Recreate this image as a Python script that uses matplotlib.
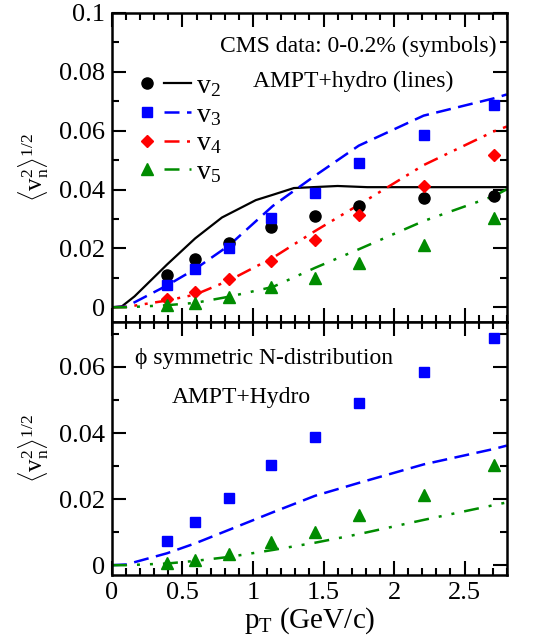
import matplotlib
matplotlib.use("Agg")
import matplotlib.pyplot as plt
from matplotlib.ticker import MultipleLocator, FuncFormatter
from matplotlib.legend_handler import HandlerTuple

plt.rcParams['font.family'] = ['Liberation Serif', 'DejaVu Serif']
plt.rcParams['mathtext.fontset'] = 'custom'
plt.rcParams['mathtext.rm'] = 'Liberation Serif'
plt.rcParams['mathtext.it'] = 'Liberation Serif:italic'

# ---------------- data ----------------
# CMS 0-0.2% (symbols)
pt_cms = [0.39, 0.59, 0.83, 1.13, 1.44, 1.75, 2.21, 2.71]
v2_cms = [0.0111, 0.0165, 0.0218, 0.0273, 0.0309, 0.0345, 0.0370, 0.0378]
v3_cms = [0.0074, 0.0131, 0.0203, 0.0302, 0.0389, 0.0490, 0.0585, 0.0688]
v4_cms = [0.0028, 0.0051, 0.0095, 0.0157, 0.0227, 0.0313, 0.0411, 0.0518]
v5_cms = [0.0008, 0.0015, 0.0035, 0.0069, 0.0100, 0.0151, 0.0211, 0.0303]

# AMPT+hydro (lines)
pt_v2 = [0.0, 0.07, 0.16, 0.39, 0.59, 0.78, 1.02, 1.14, 1.29, 1.60, 1.81, 2.2, 2.8]
v2_hyd = [0.0, 0.0003, 0.0037, 0.0145, 0.0234, 0.0305, 0.0364, 0.0382, 0.0405, 0.0412, 0.0408, 0.0408, 0.0408]
pt_hyd = [0.0, 0.1, 0.39, 0.59, 0.83, 1.14, 1.44, 1.75, 2.21, 2.71, 2.8]
v3_hyd = [0.0, 0.0002, 0.0074, 0.0130, 0.0210, 0.0344, 0.0447, 0.0549, 0.0651, 0.0710, 0.0723]
v4_hyd = [0.0, 0.0001, 0.0023, 0.0043, 0.0091, 0.0168, 0.0259, 0.0348, 0.0483, 0.0598, 0.0614]
v5_hyd = [0.0, 0.0, 0.0007, 0.0015, 0.0036, 0.0069, 0.0134, 0.0197, 0.0293, 0.0378, 0.0401]

# phi-symmetric N-distribution (bottom panel lines)
v3_sym = [0.0, 0.0002, 0.0036, 0.0066, 0.0107, 0.0160, 0.0210, 0.0249, 0.0305, 0.0352, 0.0362]
v5_sym = [0.0, 0.0, 0.0005, 0.0013, 0.0025, 0.0046, 0.0068, 0.0094, 0.0137, 0.0182, 0.0190]

BLUE = '#0000ff'
RED = '#ff0000'
GREEN = '#008c00'

DASH = (0, (6, 3))
DDOT_RED = (0, (6, 3, 1.2, 3, 1.2, 3))
DDOT_GRN = (0, (6, 4, 1.2, 4, 1.2, 4))

fig = plt.figure(figsize=(5.57, 6.44), dpi=100)
ax1 = fig.add_axes([0.201, 0.5, 0.709, 0.48])
ax2 = fig.add_axes([0.201, 0.107, 0.709, 0.393])

fmt = FuncFormatter(lambda v, p: '%g' % round(v, 4))
YLAB = r'$\langle \mathrm{v}_{\mathrm{n}}^{2}\rangle^{1/2}$'


def style(ax):
    ax.set_xlim(0, 2.8)
    ax.xaxis.set_major_locator(MultipleLocator(0.5))
    ax.xaxis.set_minor_locator(MultipleLocator(0.1))
    ax.yaxis.set_major_locator(MultipleLocator(0.02))
    ax.yaxis.set_minor_locator(MultipleLocator(0.01))
    ax.tick_params(which='both', direction='in', top=True, right=True, width=1.5)
    ax.tick_params(which='major', length=10, labelsize=19, pad=5)
    ax.tick_params(which='minor', length=5)
    ax.xaxis.set_major_formatter(fmt)
    ax.yaxis.set_major_formatter(fmt)
    for s in ax.spines.values():
        s.set_linewidth(1.8)
    ax.set_ylabel(YLAB, fontsize=18, labelpad=6)


# ---------------- top panel ----------------
style(ax1)
ax1.set_ylim(-0.005, 0.1)
ax1.tick_params(labelbottom=False)

l2, = ax1.plot(pt_v2, v2_hyd, color='black', lw=1.6)
l3, = ax1.plot(pt_hyd, v3_hyd, color=BLUE, lw=1.8, ls=DASH)
l4, = ax1.plot(pt_hyd, v4_hyd, color=RED, lw=1.8, ls=DDOT_RED)
l5, = ax1.plot(pt_hyd, v5_hyd, color=GREEN, lw=1.8, ls=DDOT_GRN)

m2, = ax1.plot(pt_cms, v2_cms, 'o', color='black', ms=8, ls='none')
m3, = ax1.plot(pt_cms, v3_cms, 's', color=BLUE, ms=7, ls='none')
m4, = ax1.plot(pt_cms, v4_cms, 'D', color=RED, ms=6.5, ls='none')
m5, = ax1.plot(pt_cms, v5_cms, '^', color=GREEN, ms=8, ls='none')

ax1.text(2.73, 0.0885, 'CMS data: 0-0.2% (symbols)', ha='right', va='center', fontsize=17)
ax1.text(1.71, 0.0766, 'AMPT+hydro (lines)', ha='center', va='center', fontsize=17)

leg = ax1.legend([(m2, l2), (m3, l3), (m4, l4), (m5, l5)],
                 [r'$\mathrm{v}_2$', r'$\mathrm{v}_3$', r'$\mathrm{v}_4$', r'$\mathrm{v}_5$'],
                 handler_map={tuple: HandlerTuple(ndivide=None, pad=0.15)},
                 loc='upper left', bbox_to_anchor=(-0.01, 0.885), frameon=False,
                 fontsize=20, handlelength=2.1, handletextpad=0.15, labelspacing=0.12)

# ---------------- bottom panel ----------------
style(ax2)
ax2.set_ylim(-0.003, 0.0736)

ax2.plot(pt_hyd, v3_sym, color=BLUE, lw=1.8, ls=DASH)
ax2.plot(pt_hyd, v5_sym, color=GREEN, lw=1.8, ls=DDOT_GRN)
ax2.plot(pt_cms, v3_cms, 's', color=BLUE, ms=7, ls='none')
ax2.plot(pt_cms, v5_cms, '^', color=GREEN, ms=8, ls='none')

ax2.text(0.163, 0.0627, '\u03d5 symmetric N-distribution', ha='left', va='center', fontsize=17)
ax2.text(0.426, 0.0509, 'AMPT+Hydro', ha='left', va='center', fontsize=17)
ax2.set_xlabel(r'$\mathrm{p}_{\mathrm{T}}$ (GeV/c)', fontsize=21, labelpad=1)

fig.savefig('out.png', dpi=100)
